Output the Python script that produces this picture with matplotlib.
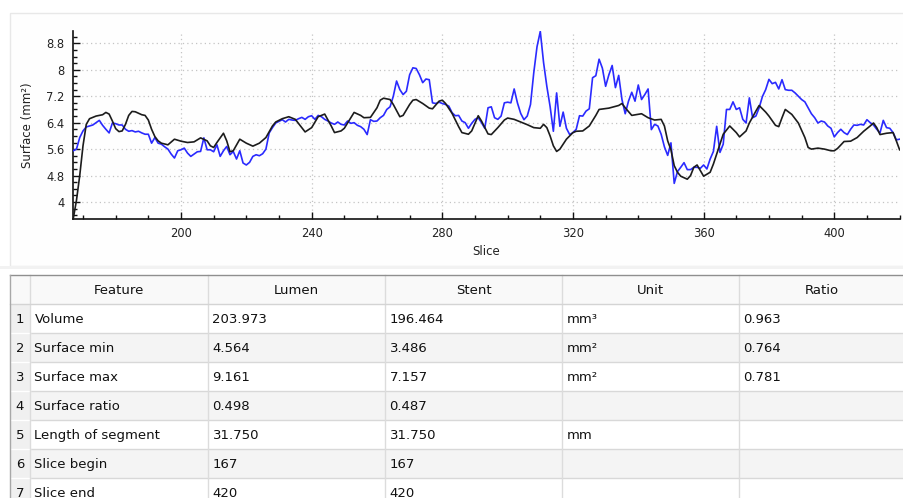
import matplotlib
matplotlib.use("Agg")
import matplotlib.pyplot as plt
import matplotlib.patches as mpatches
from matplotlib.ticker import FixedLocator, MultipleLocator, FormatStrFormatter
import numpy as np

# ── data ─────────────────────────────────────────────────────────────────────
slice_begin = 167
slice_end = 420

# lumen surface, one value per slice (167..420)
lumen_area = [
    5.55, 5.60, 5.95, 6.15, 6.27, 6.30, 6.33, 6.40, 6.47, 6.32,
    6.20, 6.09, 6.39, 6.37, 6.33, 6.33, 6.20, 6.14, 6.16, 6.12,
    6.14, 6.09, 6.05, 6.05, 5.78, 5.95, 5.78, 5.75, 5.67, 5.60,
    5.45, 5.33, 5.55, 5.58, 5.63, 5.48, 5.38, 5.45, 5.52, 5.53,
    5.94, 5.58, 5.58, 5.52, 5.73, 5.38, 5.55, 5.68, 5.43, 5.53,
    5.30, 5.55, 5.18, 5.12, 5.20, 5.38, 5.43, 5.40, 5.46, 5.60,
    6.09, 6.25, 6.39, 6.44, 6.49, 6.42, 6.50, 6.48, 6.47, 6.52,
    6.56, 6.50, 6.58, 6.61, 6.50, 6.62, 6.58, 6.50, 6.45, 6.39,
    6.35, 6.42, 6.35, 6.33, 6.45, 6.38, 6.40, 6.32, 6.28, 6.20,
    6.04, 6.49, 6.44, 6.45, 6.55, 6.62, 6.80, 6.88, 7.20, 7.66,
    7.40, 7.25, 7.35, 7.85, 8.06, 8.04, 7.85, 7.61, 7.72, 7.70,
    7.00, 6.98, 7.02, 6.98, 6.95, 6.90, 6.70, 6.61, 6.62, 6.45,
    6.40, 6.23, 6.38, 6.50, 6.55, 6.40, 6.23, 6.85, 6.88, 6.55,
    6.50, 6.60, 7.00, 7.02, 7.00, 7.42, 7.00, 6.68, 6.49, 6.60,
    6.95, 7.91, 8.70, 9.161, 8.22, 7.50, 6.89, 6.14, 7.30, 6.29,
    6.72, 6.23, 6.04, 6.10, 6.20, 6.61, 6.60, 6.75, 6.82, 7.76,
    7.82, 8.32, 8.05, 7.50, 7.85, 8.13, 7.46, 7.83, 7.10, 6.67,
    7.05, 7.32, 7.05, 7.54, 7.10, 7.25, 7.42, 6.19, 6.35, 6.30,
    6.05, 5.67, 5.41, 5.79, 4.564, 4.92, 5.05, 5.19, 4.98, 4.98,
    5.05, 5.05, 5.02, 5.12, 5.00, 5.30, 5.53, 6.29, 5.50, 5.75,
    6.80, 6.80, 7.03, 6.80, 6.85, 6.50, 6.39, 7.15, 6.55, 6.60,
    6.85, 7.19, 7.40, 7.71, 7.58, 7.62, 7.42, 7.70, 7.40, 7.38,
    7.38, 7.30, 7.20, 7.10, 7.03, 6.85, 6.67, 6.55, 6.39, 6.45,
    6.42, 6.30, 6.23, 5.97, 6.10, 6.20, 6.10, 6.04, 6.20, 6.33,
    6.32, 6.35, 6.33, 6.49, 6.40, 6.33, 6.20, 6.09, 6.47, 6.25,
    6.23, 6.10, 5.88, 5.90,
]

# stent surface (smooth curve, read at irregular slices)
stent_slices = [
    167, 168, 169, 170, 171, 172, 174, 176, 177, 178, 179, 180, 181, 182, 183,
    184, 185, 186, 188, 189, 190, 191, 192, 193, 194, 196, 198, 200, 202, 204,
    206, 208, 209, 210, 211, 213, 214, 215, 216, 218, 220, 222, 224, 226, 228,
    229, 231, 233, 235, 237, 238, 240, 242, 244, 246, 247, 249, 250, 252, 253,
    255, 256, 258, 260, 261, 262, 264, 265, 267, 268, 270, 271, 272, 274, 276,
    277, 279, 280, 281, 283, 285, 286, 288, 289, 291, 292, 294, 295, 297, 299,
    300, 302, 304, 306, 308, 310, 311, 312, 313, 314, 315, 316, 318, 320, 321,
    323, 325, 327, 328, 331, 334, 335, 336, 338, 341, 343, 345, 347, 348, 349,
    350, 351, 352, 353, 355, 356, 357, 358, 359, 360, 362, 363, 365, 366, 368,
    370, 371, 373, 374, 376, 377, 379, 380, 382, 383, 384, 385, 387, 389, 391,
    392, 393, 395, 397, 399, 400, 401, 403, 405, 407, 409, 411, 412, 413, 414,
    416, 418, 419, 420,
]
stent_area = [
    3.486, 4.05, 4.80, 5.70, 6.35, 6.52, 6.60, 6.64, 6.71, 6.66, 6.45, 6.22, 6.13, 6.15, 6.35,
    6.62, 6.74, 6.73, 6.64, 6.62, 6.48, 6.20, 5.98, 5.85, 5.78, 5.73, 5.90, 5.84, 5.80, 5.82,
    5.94, 5.85, 5.70, 5.65, 5.80, 6.08, 5.85, 5.52, 5.55, 5.90, 5.78, 5.69, 5.78, 5.95, 6.30,
    6.42, 6.52, 6.58, 6.50, 6.25, 6.12, 6.25, 6.58, 6.66, 6.30, 6.10, 6.15, 6.23, 6.55, 6.71,
    6.62, 6.55, 6.56, 6.85, 7.08, 7.14, 7.10, 6.95, 6.58, 6.62, 6.95, 7.08, 7.10, 6.98, 6.84,
    6.82, 7.05, 7.08, 6.98, 6.68, 6.28, 6.10, 6.05, 6.15, 6.61, 6.45, 6.06, 6.04, 6.25, 6.48,
    6.54, 6.50, 6.42, 6.34, 6.25, 6.23, 6.35, 6.25, 6.00, 5.70, 5.53, 5.60, 5.90, 6.10, 6.14,
    6.15, 6.30, 6.62, 6.80, 6.84, 6.92, 6.98, 6.85, 6.62, 6.67, 6.55, 6.48, 6.50, 6.30, 5.85,
    5.58, 5.10, 4.90, 4.78, 4.69, 4.80, 5.05, 5.12, 4.95, 4.78, 4.90, 5.15, 5.75, 6.05, 6.30,
    6.10, 5.97, 6.15, 6.39, 6.75, 6.92, 6.72, 6.60, 6.32, 6.28, 6.55, 6.80, 6.65, 6.39, 5.95,
    5.65, 5.60, 5.63, 5.60, 5.55, 5.55, 5.62, 5.83, 5.84, 5.95, 6.14, 6.30, 6.39, 6.25, 6.04,
    6.08, 6.10, 5.85, 5.58,
]

x_ticks = [200, 240, 280, 320, 360, 400]
y_ticks = [4, 4.8, 5.6, 6.4, 7.2, 8, 8.8]
y_min, y_max = 3.486, 9.161

table_columns = ["Feature", "Lumen", "Stent", "Unit", "Ratio"]
features = ["Volume", "Surface min", "Surface max", "Surface ratio",
            "Length of segment", "Slice begin", "Slice end"]
lumen_vals = ["203.973", "4.564", "9.161", "0.498", "31.750", "167", "420"]
stent_vals = ["196.464", "3.486", "7.157", "0.487", "31.750", "167", "420"]
units = ["mm³", "mm²", "mm²", "", "mm", "", ""]
ratios = ["0.963", "0.764", "0.781", "", "", "", ""]

_BLUE = "#2a2aff"
_BLACK = "#1c1c1c"
_GRID = "#c4c4c4"

plt.rcParams["font.family"] = ["DejaVu Sans"]

W, H = 904, 498
fig = plt.figure(figsize=(W / 100, H / 100), dpi=100)
fig.patch.set_facecolor("white")


def px_box(l, t, r, b):
    return [l / W, 1 - b / H, (r - l) / W, (b - t) / H]


# ── background layer (panel + table) in pixel coordinates ───────────────────
bg = fig.add_axes([0, 0, 1, 1])
bg.set_xlim(0, W)
bg.set_ylim(H, 0)
bg.axis("off")

bg.add_patch(mpatches.Rectangle((10, 13), W - 10, 253, facecolor="#fefefe",
                                edgecolor="#e8e8e8", lw=1))
bg.add_patch(mpatches.Rectangle((0, 266), W, 3, facecolor="#f2f2f2", lw=0))

col_edges = [10, 30, 208, 385, 562, 739, W]
head_top, head_bot, row_h = 275, 304, 29
n_rows = len(features)

# header
bg.add_patch(mpatches.Rectangle((10, head_top), W - 10, head_bot - head_top,
                                facecolor="#f9f9f9", lw=0))
for i, name in enumerate(table_columns):
    cx = (col_edges[i + 1] + col_edges[i + 2]) / 2
    bg.text(cx, (head_top + head_bot) / 2 + 1, name, ha="center", va="center",
            fontsize=9.5, color="#111111")

# body rows (the last one is cut by the bottom edge, as in the window)
for r in range(n_rows):
    top = head_bot + r * row_h
    face = "white" if r % 2 == 0 else "#f4f4f4"
    bg.add_patch(mpatches.Rectangle((30, top), W - 30, row_h, facecolor=face, lw=0))
    bg.add_patch(mpatches.Rectangle((10, top), 20, row_h, facecolor="#f0f0f0", lw=0))
    cy = top + row_h / 2 + 1
    bg.text(20, cy, str(r + 1), ha="center", va="center", fontsize=9.5, color="#111111")
    cells = [features[r], lumen_vals[r], stent_vals[r], units[r], ratios[r]]
    for c, txt in enumerate(cells):
        bg.text(col_edges[c + 1] + 4.5, cy, txt, ha="left", va="center",
                fontsize=9.5, color="#111111")
    bg.plot([30, W], [top + row_h, top + row_h], color="#d8d8d8", lw=1)
    bg.plot([10, 30], [top + row_h, top + row_h], color="#ffffff", lw=1)

for x in col_edges[1:-1]:
    bg.plot([x, x], [head_top, H], color="#dcdcdc", lw=1)
bg.plot([10, W], [head_bot, head_bot], color="#d4d4d4", lw=1)
bg.plot([10, W], [head_top, head_top], color="#8f8f8f", lw=1)
bg.plot([10, 10], [head_top, H], color="#a8a8a8", lw=1)

# ── chart ────────────────────────────────────────────────────────────────────
ax = fig.add_axes(px_box(73.2, 31.4, 899.6, 219))
ax.set_facecolor("none")

lumen_slices = np.arange(slice_begin, slice_end + 1)
ax.plot(lumen_slices, lumen_area, color=_BLUE, lw=1.2, zorder=3)
ax.plot(stent_slices, stent_area, color=_BLACK, lw=1.2, zorder=4)

ax.set_xlim(slice_begin, slice_end)
ax.set_ylim(y_min, y_max)

ax.xaxis.set_major_locator(FixedLocator(x_ticks))
ax.xaxis.set_minor_locator(MultipleLocator(10))
ax.yaxis.set_major_locator(FixedLocator(y_ticks))
ax.yaxis.set_minor_locator(MultipleLocator(0.2))
ax.yaxis.set_major_formatter(FormatStrFormatter("%g"))

ax.grid(True, which="major", color=_GRID, linestyle=(0, (1, 2.5)), lw=0.9)
ax.set_axisbelow(True)

for side in ("top", "right"):
    ax.spines[side].set_visible(False)
for side in ("left", "bottom"):
    ax.spines[side].set_color("#111111")
    ax.spines[side].set_linewidth(1.2)

ax.tick_params(which="major", direction="in", length=5, width=1, color="#111111",
               labelsize=8.3, labelcolor="#222222", pad=6)
ax.tick_params(which="minor", direction="in", length=3, width=1, color="#111111")

ax.set_xlabel("Slice", fontsize=8.5, color="#222222")
ax.xaxis.set_label_coords(0.5, -0.14)
ax.set_ylabel("Surface (mm²)", fontsize=8.5, color="#222222")
ax.yaxis.set_label_coords(-0.048, 0.5)

fig.savefig("out.png", dpi=100, facecolor=fig.get_facecolor())
